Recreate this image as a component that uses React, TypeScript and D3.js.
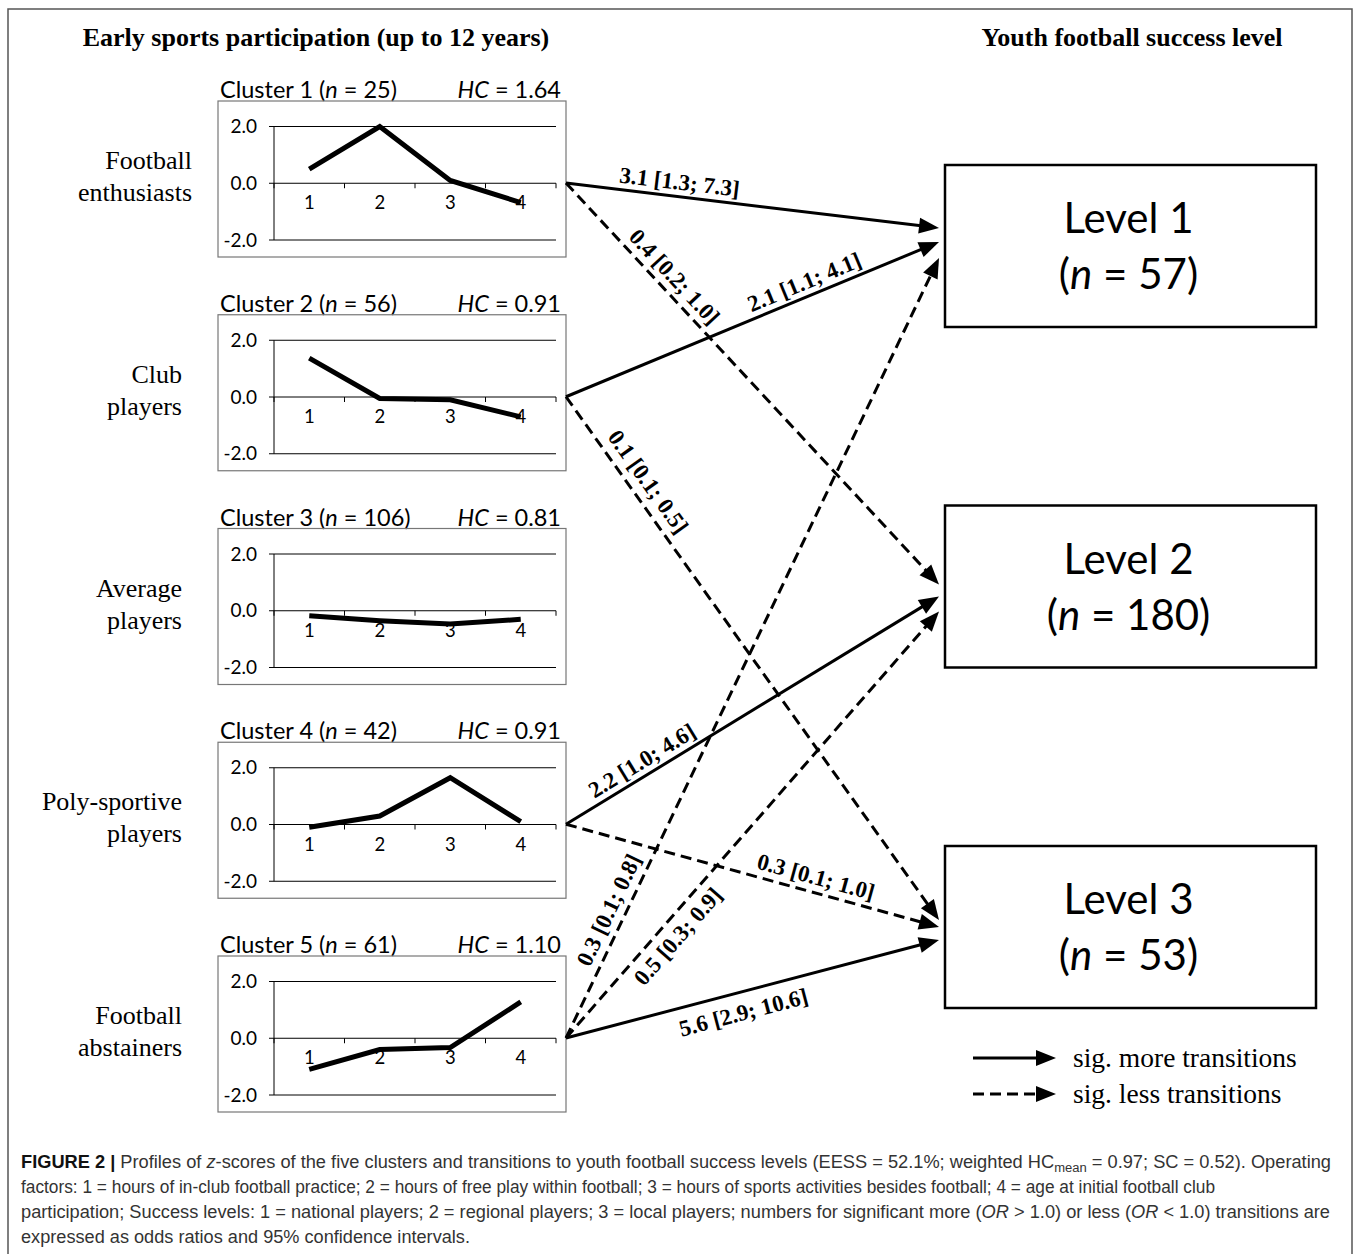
import React from "react";
import * as d3 from "d3";

// cluster profiles (z-scores of the 4 operating factors)
const factors = ["1", "2", "3", "4"];
const clusterNames = [
  ["Football", "enthusiasts"],
  ["Club", "players"],
  ["Average", "players"],
  ["Poly-sportive", "players"],
  ["Football", "abstainers"],
];
const clusterN = [25, 56, 106, 42, 61];
const clusterHC = ["1.64", "0.91", "0.81", "0.91", "1.10"];
const profiles = [
  [0.5, 2.0, 0.1, -0.68],
  [1.37, -0.05, -0.1, -0.7],
  [-0.18, -0.35, -0.47, -0.3],
  [-0.1, 0.3, 1.65, 0.1],
  [-1.1, -0.4, -0.33, 1.28],
];
const yTicks = [-2, 0, 2];

const levelN = [57, 180, 53];

// transitions: cluster index -> level index
const transFrom = [0, 0, 1, 1, 3, 3, 4, 4, 4];
const transTo = [0, 1, 0, 2, 1, 2, 0, 1, 2];
const transOR = [
  "3.1 [1.3; 7.3]",
  "0.4 [0.2; 1.0]",
  "2.1 [1.1; 4.1]",
  "0.1 [0.1; 0.5]",
  "2.2 [1.0; 4.6]",
  "0.3 [0.1; 1.0]",
  "0.3 [0.1; 0.8]",
  "0.5 [0.3; 0.9]",
  "5.6 [2.9; 10.6]",
];
const transMore = [true, false, true, false, true, false, false, false, true];

// layout only (where each arrow lands on its box, where its label sits)
const tipOffset = [63, 79, 77, 74, 91, 81, 93, 106, 94];
const labelT = [0.3, 0.26, 0.654, 0.182, 0.224, 0.659, 0.155, 0.265, 0.462];
const labelOff = [15, 16, 15, 18, 15, 16, 17, -17, -20];

const serif = "'Liberation Serif', 'Times New Roman', serif";
const sans = "Lato, 'Liberation Sans', sans-serif";
const capFont = "'Liberation Sans', Arial, sans-serif";

const boxX = 218;
const boxW = 348;
const zeroY = (i: number) => 183 + i * 213.75;
const levelTop = (j: number) => 165 + j * 340.5;
const levelX = 945;
const levelW = 371;
const levelH = 162;

function MiniChart({ i }: { i: number }) {
  const z = zeroY(i);
  const x = d3.scaleBand<string>().domain(factors).range([274, 556]);
  const y = d3.scaleLinear().domain([-2, 2]).range([z + 57, z - 56.5]);
  const cx = (f: string) => (x(f) as number) + x.bandwidth() / 2;
  const line = d3
    .line<number>()
    .x((_, k) => cx(factors[k]))
    .y(d => y(d));
  const fmt = (v: number) => d3.format(".1f")(v).replace("\u2212", "-");
  const bounds = factors.map(f => x(f) as number).concat([x.range()[1]]);
  return (
    <g>
      <text x={220} y={z - 85} fontFamily={sans} fontSize={23.5} fill="#000">
        Cluster {i + 1} (<tspan fontStyle="italic">n</tspan> = {clusterN[i]})
      </text>
      <text x={561} y={z - 85} fontFamily={sans} fontSize={23.5} textAnchor="end">
        <tspan fontStyle="italic">HC</tspan> = {clusterHC[i]}
      </text>
      <rect x={boxX} y={z - 82} width={boxW} height={156} fill="none" stroke="#777" strokeWidth={1.2} />
      {yTicks.map(t => (
        <g key={t}>
          <line x1={269} x2={556} y1={y(t)} y2={y(t)} stroke="#000" strokeWidth={1} />
          <text x={257} y={y(t)} dy="0.35em" textAnchor="end" fontFamily={sans} fontSize={19}>
            {fmt(t)}
          </text>
        </g>
      ))}
      <line x1={274} x2={274} y1={y(2)} y2={y(-2)} stroke="#000" strokeWidth={1} />
      {bounds.map((b, k) => (
        <line key={k} x1={b} x2={b} y1={y(0)} y2={y(0) + 5} stroke="#000" strokeWidth={1} />
      ))}
      {factors.map(f => (
        <text key={f} x={cx(f)} y={y(0) + 26} textAnchor="middle" fontFamily={sans} fontSize={18.5}>
          {f}
        </text>
      ))}
      <path d={line(profiles[i]) as string} fill="none" stroke="#000" strokeWidth={5} />
      {clusterNames[i].map((s, k) => (
        <text
          key={k}
          x={i === 0 ? 192 : 182}
          y={z - 14 + k * 32}
          textAnchor="end"
          fontFamily={serif}
          fontSize={26}
        >
          {s}
        </text>
      ))}
    </g>
  );
}

function Arrow({
  x1, y1, x2, y2, dashed,
}: { x1: number; y1: number; x2: number; y2: number; dashed: boolean }) {
  const dx = x2 - x1;
  const dy = y2 - y1;
  const len = Math.hypot(dx, dy);
  const ux = dx / len;
  const uy = dy / len;
  const hl = 20;
  const hw = 8;
  const bx = x2 - hl * ux;
  const by = y2 - hl * uy;
  const pts = [
    [x2, y2],
    [bx + hw * uy, by - hw * ux],
    [bx - hw * uy, by + hw * ux],
  ];
  return (
    <g>
      <line
        x1={x1}
        y1={y1}
        x2={bx + 2 * ux}
        y2={by + 2 * uy}
        stroke="#000"
        strokeWidth={3}
        strokeDasharray={dashed ? "11 6" : undefined}
      />
      <polygon points={pts.map(p => p.join(",")).join(" ")} fill="#000" />
    </g>
  );
}

export default function App() {
  const W = 1358;
  const H = 1254;
  return (
    <svg width={W} height={H} style={{ position: "absolute", left: 0, top: 0, background: "#fff" }}>
      <rect x={0} y={0} width={W} height={H} fill="#fff" />
      <rect x={8} y={9} width={1344} height={1270} fill="none" stroke="#555" strokeWidth={1.5} />

      <text x={316} y={46} textAnchor="middle" fontFamily={serif} fontWeight="bold" fontSize={26}>
        Early sports participation (up to 12 years)
      </text>
      <text x={1132} y={46} textAnchor="middle" fontFamily={serif} fontWeight="bold" fontSize={26}>
        Youth football success level
      </text>

      {profiles.map((_, i) => (
        <MiniChart key={i} i={i} />
      ))}

      {levelN.map((n, j) => (
        <g key={j}>
          <rect x={levelX} y={levelTop(j)} width={levelW} height={levelH} fill="#fff" stroke="#000" strokeWidth={2.5} />
          <text x={levelX + levelW / 2 - 2} y={levelTop(j) + 68} textAnchor="middle" fontFamily={sans} fontSize={42}>
            Level {j + 1}
          </text>
          <text x={levelX + levelW / 2 - 2} y={levelTop(j) + 124} textAnchor="middle" fontFamily={sans} fontSize={42}>
            (<tspan fontStyle="italic">n</tspan> = {n})
          </text>
        </g>
      ))}

      {transFrom.map((c, k) => {
        const x1 = 566;
        const y1 = zeroY(c);
        const x2 = 939;
        const y2 = levelTop(transTo[k]) + tipOffset[k];
        const dx = x2 - x1;
        const dy = y2 - y1;
        const len = Math.hypot(dx, dy);
        const ux = dx / len;
        const uy = dy / len;
        const px = x1 + labelT[k] * len * ux + labelOff[k] * uy;
        const py = y1 + labelT[k] * len * uy - labelOff[k] * ux;
        const ang = (Math.atan2(dy, dx) * 180) / Math.PI;
        return (
          <g key={k}>
            <Arrow x1={x1} y1={y1} x2={x2} y2={y2} dashed={!transMore[k]} />
            <text
              transform={`translate(${px},${py}) rotate(${ang})`}
              textAnchor="middle"
              dy="0.35em"
              fontFamily={serif}
              fontWeight="bold"
              fontSize={23}
            >
              {transOR[k]}
            </text>
          </g>
        );
      })}

      {/* legend */}
      <Arrow x1={973} y1={1058} x2={1056} y2={1058} dashed={false} />
      <text x={1073} y={1067} fontFamily={serif} fontSize={27.5}>
        sig. more transitions
      </text>
      <Arrow x1={973} y1={1094} x2={1056} y2={1094} dashed={true} />
      <text x={1073} y={1103} fontFamily={serif} fontSize={27.5}>
        sig. less transitions
      </text>

      {/* caption */}
      <g fontFamily={capFont} fontSize={17.5} fill="#333">
        <text x={21} y={1168} textLength={1310} lengthAdjust="spacingAndGlyphs">
          <tspan fontWeight="bold" fill="#111">FIGURE 2 | </tspan>
          Profiles of <tspan fontStyle="italic">z</tspan>-scores of the five clusters and transitions to youth
          football success levels (EESS = 52.1%; weighted HC
          <tspan fontSize={12.5} dy={4}>mean</tspan>
          <tspan dy={-4}> = 0.97; SC = 0.52). Operating</tspan>
        </text>
        <text x={21} y={1193} textLength={1194} lengthAdjust="spacingAndGlyphs">
          factors: 1 = hours of in-club football practice; 2 = hours of free play within football; 3 = hours of
          sports activities besides football; 4 = age at initial football club
        </text>
        <text x={21} y={1218} textLength={1309} lengthAdjust="spacingAndGlyphs">
          participation; Success levels: 1 = national players; 2 = regional players; 3 = local players; numbers
          for significant more (<tspan fontStyle="italic">OR</tspan> &gt; 1.0) or less (
          <tspan fontStyle="italic">OR</tspan> &lt; 1.0) transitions are
        </text>
        <text x={21} y={1243} textLength={449} lengthAdjust="spacingAndGlyphs">
          expressed as odds ratios and 95% confidence intervals.
        </text>
      </g>
    </svg>
  );
}
